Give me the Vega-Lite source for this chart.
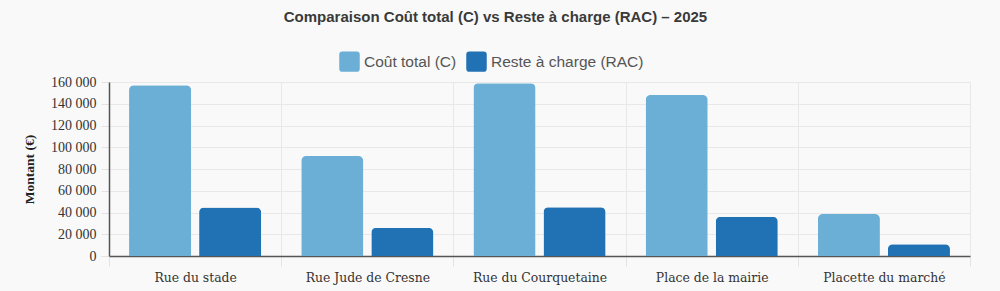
{
  "$schema": "https://vega.github.io/schema/vega-lite/v6.json",
  "width": 861,
  "height": 174,
  "autosize": {"type": "none"},
  "padding": {"left": 109, "top": 82, "right": 30, "bottom": 35},
  "background": "#f9f9f9",
  "title": {
    "text": "Comparaison Coût total (C) vs Reste à charge (RAC) – 2025",
    "font": "Liberation Sans",
    "fontSize": 15,
    "fontWeight": "bold",
    "color": "#3a3a3a",
    "anchor": "middle",
    "dx": -44,
    "offset": 26
  },
  "config": {
    "locale": {"number": {"decimal": ",", "thousands": " ", "grouping": [3], "currency": ["", " €"]}},
    "view": {"stroke": null}
  },
  "data": {
    "values": [
      {"lieu": "Rue du stade", "serie": "Coût total (C)", "montant": 157000},
      {"lieu": "Rue du stade", "serie": "Reste à charge (RAC)", "montant": 44500},
      {"lieu": "Rue Jude de Cresne", "serie": "Coût total (C)", "montant": 92000},
      {"lieu": "Rue Jude de Cresne", "serie": "Reste à charge (RAC)", "montant": 26000},
      {"lieu": "Rue du Courquetaine", "serie": "Coût total (C)", "montant": 158800},
      {"lieu": "Rue du Courquetaine", "serie": "Reste à charge (RAC)", "montant": 44800},
      {"lieu": "Place de la mairie", "serie": "Coût total (C)", "montant": 148000},
      {"lieu": "Place de la mairie", "serie": "Reste à charge (RAC)", "montant": 36000},
      {"lieu": "Placette du marché", "serie": "Coût total (C)", "montant": 38600},
      {"lieu": "Placette du marché", "serie": "Reste à charge (RAC)", "montant": 10800}
    ]
  },
  "mark": {"type": "bar", "cornerRadiusTopLeft": 5, "cornerRadiusTopRight": 5},
  "encoding": {
    "x": {
      "field": "lieu",
      "type": "nominal",
      "sort": null,
      "scale": {"paddingInner": 0, "paddingOuter": 0},
      "axis": {
        "title": null,
        "labelAngle": 0,
        "labelFont": "DejaVu Serif",
        "labelFontSize": 12.4,
        "labelColor": "#333333",
        "labelPadding": 5,
        "tickBand": "extent",
        "tickSize": 10,
        "tickColor": "#e3e3e3",
        "grid": true,
        "gridColor": "#e8e8e8",
        "domainColor": "#555555",
        "domainWidth": 1.5
      }
    },
    "xOffset": {
      "field": "serie",
      "type": "nominal",
      "sort": ["Coût total (C)", "Reste à charge (RAC)"],
      "scale": {"paddingInner": 0.114, "paddingOuter": 0.286}
    },
    "y": {
      "field": "montant",
      "type": "quantitative",
      "scale": {"domain": [0, 160000], "nice": false},
      "axis": {
        "title": "Montant (€)",
        "titleFont": "Liberation Serif",
        "titleFontSize": 13.5,
        "titleFontWeight": "bold",
        "titleColor": "#222222",
        "titlePadding": 14,
        "values": [0, 20000, 40000, 60000, 80000, 100000, 120000, 140000, 160000],
        "format": ",d",
        "labelFont": "Liberation Serif",
        "labelFontSize": 14,
        "labelColor": "#333333",
        "labelPadding": 5,
        "tickSize": 8,
        "tickColor": "#e3e3e3",
        "gridColor": "#e8e8e8",
        "domainColor": "#555555",
        "domainWidth": 1.5
      }
    },
    "color": {
      "field": "serie",
      "type": "nominal",
      "scale": {"domain": ["Coût total (C)", "Reste à charge (RAC)"], "range": ["#6baed6", "#2171b5"]},
      "legend": {
        "title": null,
        "orient": "none",
        "direction": "horizontal",
        "legendX": 230,
        "legendY": -31,
        "symbolType": "M -0.7,-1 H 0.7 Q 1,-1 1,-0.7 V 0.7 Q 1,1 0.7,1 H -0.7 Q -1,1 -1,0.7 V -0.7 Q -1,-1 -0.7,-1 Z",
        "symbolSize": 420,
        "symbolStrokeWidth": 0,
        "labelFont": "Liberation Sans",
        "labelFontSize": 15.5,
        "labelColor": "#555555",
        "columnPadding": 9,
        "labelOffset": 4
      }
    }
  }
}
